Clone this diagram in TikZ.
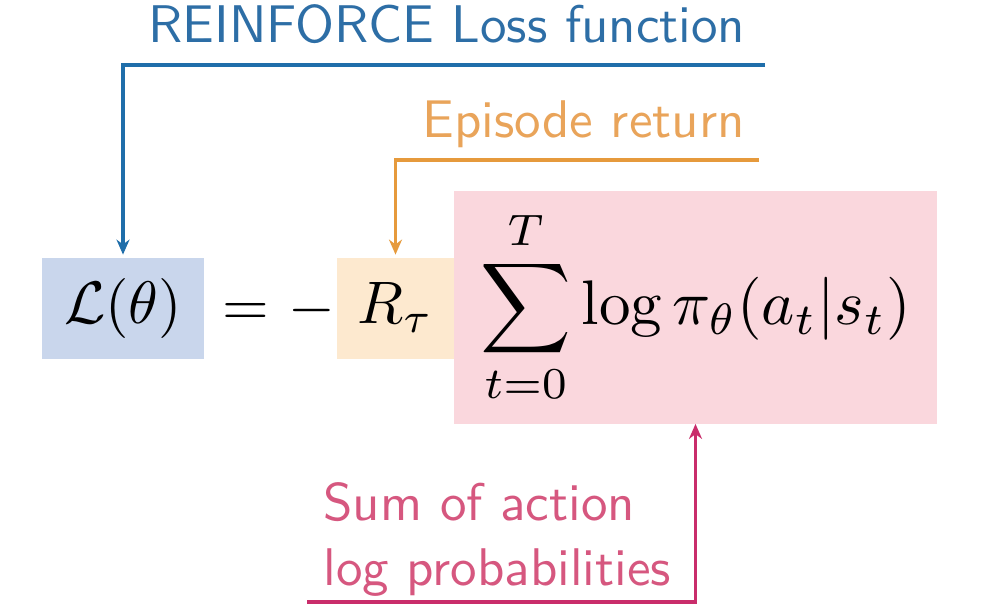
\documentclass[tikz,border=0pt]{standalone}
\usepackage{graphicx}
\usepackage{fontspec}
\newfontfamily\lblfont{lmsans10-regular}[Extension=.otf]
\usetikzlibrary{arrows.meta}
\definecolor{bluetxt}{HTML}{2D6EA6}
\definecolor{blueln}{HTML}{1F6EAA}
\definecolor{bluefill}{HTML}{C9D6EC}
\definecolor{orgtxt}{HTML}{E9A45A}
\definecolor{orgln}{HTML}{E69A3C}
\definecolor{orgfill}{HTML}{FDE9CF}
\definecolor{pinkfill}{HTML}{FAD7DD}
\definecolor{magln}{HTML}{C92D6B}
\definecolor{magtxt}{HTML}{D6577F}
\newcommand{\mybigmath}[1]{\scalebox{3}{#1}}
\newcommand{\mysummath}[1]{\scalebox{3.15}{#1}}
\tikzset{
  lbl/.style={font=\lblfont\fontsize{26.5}{32}\selectfont, inner sep=0pt, anchor=base west},
  mth/.style={inner sep=0pt},
  eqbox/.style={mth, rectangle, draw=none, text height=22.5pt, text depth=7.5pt},
  conn/.style={line width=1.6pt, -{Stealth[length=7.5pt,width=6.5pt]}}
}
\begin{document}
\begin{tikzpicture}[x=0.5pt,y=-0.5pt]
\useasboundingbox[fill=white] (0,0) rectangle (1000,615);
% boxes
\node[eqbox, fill=bluefill, minimum width=81pt, minimum height=50.5pt] (loss) at (123,308.5) {\mybigmath{$\mathcal{L}(\theta)$}};
\node[eqbox, fill=orgfill, minimum width=58.5pt, minimum height=50.5pt] (ret) at (395.5,308.5) {\mybigmath{$R_\tau$}};
\node[mth, fill=pinkfill, minimum width=241.5pt, minimum height=116.5pt] (sum) at (695.5,307) {\mysummath{$\displaystyle\sum_{t=0}^{T}\log\pi_\theta(a_t|s_t)$}};
\node[mth, anchor=base] (eq) at (246,325) {\mybigmath{$=$}};
\node[mth, anchor=base] (minus) at (312,325) {\mybigmath{$-$}};
% labels
\node[lbl, text=bluetxt] (lbll) at (148,43) {REINFORCE Loss function};
\node[lbl, text=orgtxt] (lblr) at (422,137) {Episode return};
\node[lbl, text=magtxt] (lbls1) at (323,520) {Sum of action};
\node[lbl, text=magtxt] (lbls2) at (323,585) {log probabilities};
% connector free ends
\coordinate (bstart) at (765,65);
\coordinate (ostart) at (759,160);
\coordinate (mstart) at (307,602);
\draw[conn, blueln, shorten >=1.5pt] (bstart) -| (loss.north);
\draw[conn, orgln, shorten >=1.5pt] (ostart) -| (ret.north);
\draw[conn, magln] (mstart) -| (sum.south);
\end{tikzpicture}
\end{document}
